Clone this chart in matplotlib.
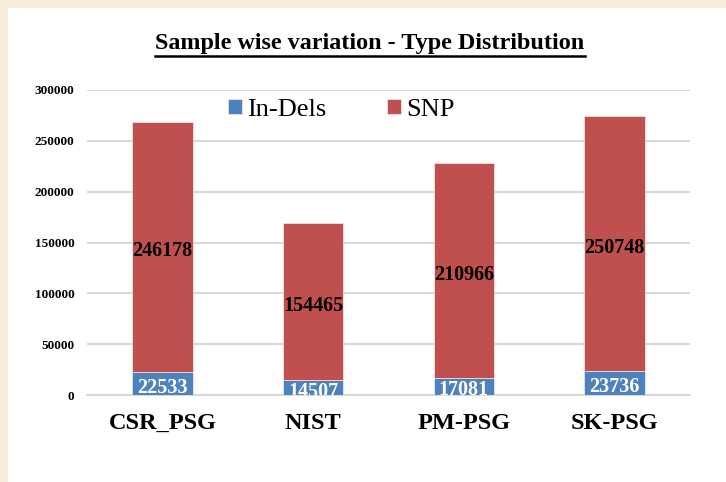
import numpy as np
import matplotlib
matplotlib.use("Agg")
import matplotlib.pyplot as plt
from matplotlib.lines import Line2D
from matplotlib.transforms import offset_copy

plt.rcParams["font.family"] = ["Liberation Serif", "DejaVu Serif"]

samples = ["CSR_PSG", "NIST", "PM-PSG", "SK-PSG"]
indels = [22533, 14507, 17081, 23736]
snp = [246178, 154465, 210966, 250748]
title = "Sample wise variation - Type Distribution"

W, H = 726, 482
fig = plt.figure(figsize=(W / 100, H / 100), dpi=100, facecolor="#F7EBDA")
# white panel inside the beige border
bg = fig.add_axes([8 / W, 0, 1 - 8 / W, 1 - 8 / H])
bg.set_axis_off()
bg.add_patch(plt.Rectangle((0, 0), 1, 1, transform=bg.transAxes, facecolor="white", edgecolor="none"))
bg.set_zorder(0)

ax = fig.add_axes([87 / W, 1 - 395 / H, (690 - 87) / W, (395 - 90) / H])
ax.set_zorder(1)
ax.set_facecolor("none")
x = np.arange(len(samples))
bw = 0.4
ax.bar(x, indels, bw, color="#4F81BD", edgecolor="white", linewidth=0.4, label="In-Dels", zorder=3)
ax.bar(x, snp, bw, bottom=indels, color="#C0504D", edgecolor="white", linewidth=0.4, label="SNP", zorder=3)

lab_tr = offset_copy(ax.transData, fig=fig, y=-3, units="points")
for i in range(len(samples)):
    ax.text(x[i], indels[i] / 2, str(indels[i]), ha="center", va="center", color="white",
            fontsize=14.5, fontweight="bold", zorder=4, clip_on=True, transform=lab_tr)
    ax.text(x[i], indels[i] + snp[i] / 2, str(snp[i]), ha="center", va="center", color="black",
            fontsize=14.5, fontweight="bold", zorder=4, transform=lab_tr)

ax.set_xlim(-0.5, 3.5)
ax.set_ylim(0, 300000)
ax.set_yticks(np.arange(0, 300001, 50000))
ax.yaxis.grid(True, color="#D9D9D9", linewidth=1.5, zorder=0)
ax.set_axisbelow(True)
for s in ["top", "right", "left"]:
    ax.spines[s].set_visible(False)
ax.spines["bottom"].set_color("#D9D9D9")
ax.spines["bottom"].set_linewidth(1.5)
ax.set_xticks(x)
ax.set_xticklabels(samples, fontsize=17.5, fontweight="bold")
ax.tick_params(axis="x", length=0, pad=13)
ax.tick_params(axis="y", length=0, pad=9, labelsize=9.5)
for t in ax.get_yticklabels():
    t.set_fontweight("bold")

ax.legend(loc="center", bbox_to_anchor=(341 / W, 1 - 110 / H), bbox_transform=fig.transFigure,
          ncol=2, frameon=False, fontsize=19, handlelength=0.53, handleheight=0.53,
          handletextpad=0.2, columnspacing=2.3)

tt = fig.text(370 / W, 1 - 44 / H, title, ha="center", va="center", fontsize=17.4, fontweight="bold",
              zorder=5)
fig.canvas.draw()
bb = tt.get_window_extent()
yl = bb.y0 - 1
fig.add_artist(Line2D([bb.x0 / W, bb.x1 / W], [yl / H, yl / H], transform=fig.transFigure,
                      color="black", linewidth=1.8, zorder=5))

fig.savefig("out.png", dpi=100, facecolor=fig.get_facecolor())
